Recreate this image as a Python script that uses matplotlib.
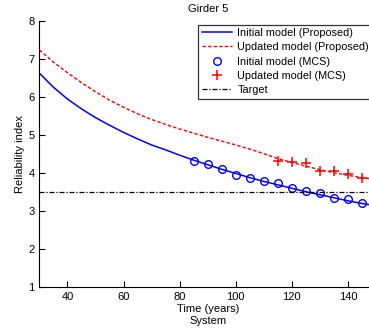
import numpy as np
import matplotlib
matplotlib.use("Agg")
import matplotlib.pyplot as plt

plt.rcParams['font.family'] = ['Liberation Sans', 'DejaVu Sans']

# proposed-method curves
t_line = [30, 35, 40, 45, 50, 55, 60, 65, 70, 75, 80, 85, 90, 95, 100,
          105, 110, 115, 120, 125, 130, 135, 140, 145, 150]
beta_initial = [6.62, 6.25, 5.94, 5.68, 5.45, 5.25, 5.06, 4.89, 4.73, 4.60,
                4.46, 4.33, 4.21, 4.09, 3.98, 3.87, 3.77, 3.68, 3.59, 3.50,
                3.42, 3.34, 3.26, 3.19, 3.13]
beta_updated = [7.23, 6.91, 6.63, 6.37, 6.13, 5.91, 5.72, 5.55, 5.40, 5.27,
                5.15, 5.04, 4.93, 4.83, 4.73, 4.62, 4.50, 4.37, 4.27, 4.17,
                4.08, 4.00, 3.93, 3.87, 3.82]

# MCS points
t_mcs_init = [85, 90, 95, 100, 105, 110, 115, 120, 125, 130, 135, 140, 145]
beta_mcs_init = [4.32, 4.22, 4.09, 3.95, 3.87, 3.77, 3.72, 3.61, 3.52,
                 3.47, 3.34, 3.30, 3.19]
t_mcs_upd = [115, 120, 125, 130, 135, 140, 145]
beta_mcs_upd = [4.32, 4.29, 4.25, 4.04, 4.05, 3.96, 3.85]

target = 3.5

fig = plt.figure(figsize=(3.69, 3.29), dpi=100)
ax = fig.add_axes([0.1066, 0.1286, 0.9125, 0.8085])

ax.plot(t_line, beta_initial, color='#0000ff', lw=1.1, label='Initial model (Proposed)')
ax.plot(t_line, beta_updated, color='#ff0000', lw=1.0, ls=(0, (2.5, 1.5)), label='Updated model (Proposed)')
ax.plot(t_mcs_init, beta_mcs_init, 'o', mfc='none', mec='#0000ff', mew=1.0, ms=5.5,
        label='Initial model (MCS)')
ax.plot(t_mcs_upd, beta_mcs_upd, '+', color='#ff0000', mew=1.1, ms=6.5,
        label='Updated model (MCS)')
ax.plot([30, 150], [target, target], color='black', lw=0.9, ls=(0, (4, 1.5, 1, 1.5)),
        label='Target')

ax.set_xlim(30, 150)
ax.set_ylim(1, 8)
ax.set_xticks([40, 60, 80, 100, 120, 140])
ax.set_yticks(range(1, 9))
ax.tick_params(direction='in', labelsize=8, length=4, width=0.8)
ax.spines['top'].set_visible(False)
ax.spines['right'].set_visible(False)
ax.set_title('Girder 5', fontsize=8, pad=6)
ax.set_xlabel('Time (years)\nSystem', fontsize=8, labelpad=2, linespacing=1.25)
ax.set_ylabel('Reliability index', fontsize=8, labelpad=2)

leg = ax.legend(loc='upper left', bbox_to_anchor=(0.4723, 0.985), fontsize=7.8,
                frameon=True, fancybox=False, edgecolor='black', handlelength=2.8,
                borderpad=0.3, labelspacing=0.4, handletextpad=0.5, borderaxespad=0)
leg.get_frame().set_linewidth(0.9)

fig.savefig('out.png', dpi=100)
